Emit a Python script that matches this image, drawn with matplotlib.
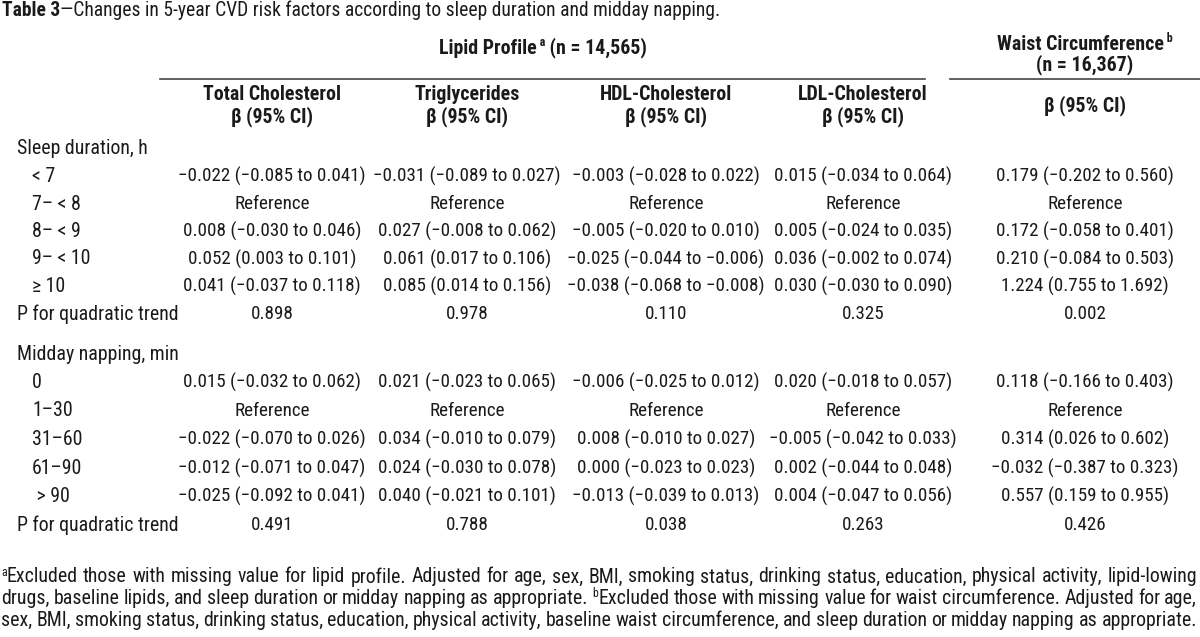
import numpy as np
import matplotlib.pyplot as plt
from matplotlib import font_manager

# Fonts: a narrow sans close to the journal's Arial Narrow
names = {f.name for f in font_manager.fontManager.ttflist}
base = 'Liberation Sans'
for cand in ['Nimbus Sans Narrow', 'Liberation Sans Narrow', 'Arial Narrow', 'Roboto Condensed',
             'Archivo Narrow', 'PT Sans Narrow']:
    if cand in names:
        base = cand
        break
plt.rcParams['font.family'] = [base, 'DejaVu Sans']

# Data
title_bold = "Table 3"
title_rest = "\u2014Changes in 5-year CVD risk factors according to sleep duration and midday napping."
col_names = ["Total Cholesterol", "Triglycerides", "HDL-Cholesterol", "LDL-Cholesterol", ""]

sleep_labels = ["< 7", "7\u2013 < 8", "8\u2013 < 9", "9\u2013 < 10", "\u2265 10"]
nap_labels = ["0", "1\u201330", "31\u201360", "61\u201390", " > 90"]

# beta, lower, upper (None = reference category)
sleep_tc = [(-0.022, -0.085, 0.041), None, (0.008, -0.030, 0.046), (0.052, 0.003, 0.101), (0.041, -0.037, 0.118)]
sleep_tg = [(-0.031, -0.089, 0.027), None, (0.027, -0.008, 0.062), (0.061, 0.017, 0.106), (0.085, 0.014, 0.156)]
sleep_hdl = [(-0.003, -0.028, 0.022), None, (-0.005, -0.020, 0.010), (-0.025, -0.044, -0.006), (-0.038, -0.068, -0.008)]
sleep_ldl = [(0.015, -0.034, 0.064), None, (0.005, -0.024, 0.035), (0.036, -0.002, 0.074), (0.030, -0.030, 0.090)]
sleep_waist = [(0.179, -0.202, 0.560), None, (0.172, -0.058, 0.401), (0.210, -0.084, 0.503), (1.224, 0.755, 1.692)]
sleep_p = [0.898, 0.978, 0.110, 0.325, 0.002]

nap_tc = [(0.015, -0.032, 0.062), None, (-0.022, -0.070, 0.026), (-0.012, -0.071, 0.047), (-0.025, -0.092, 0.041)]
nap_tg = [(0.021, -0.023, 0.065), None, (0.034, -0.010, 0.079), (0.024, -0.030, 0.078), (0.040, -0.021, 0.101)]
nap_hdl = [(-0.006, -0.025, 0.012), None, (0.008, -0.010, 0.027), (0.000, -0.023, 0.023), (-0.013, -0.039, 0.013)]
nap_ldl = [(0.020, -0.018, 0.057), None, (-0.005, -0.042, 0.033), (0.002, -0.044, 0.048), (0.004, -0.047, 0.056)]
nap_waist = [(0.118, -0.166, 0.403), None, (0.314, 0.026, 0.602), (-0.032, -0.387, 0.323), (0.557, 0.159, 0.955)]
nap_p = [0.491, 0.788, 0.038, 0.263, 0.426]

footnote = [
    [("a", "Excluded"), "those", "with", "missing", "value", "for", "lipid", "profile.", "Adjusted", "for", "age,", "sex,",
     "BMI,", "smoking", "status,", "drinking", "status,", "education,", "physical", "activity,", "lipid-lowing"],
    ["drugs,", "baseline", "lipids,", "and", "sleep", "duration", "or", "midday", "napping", "as", "appropriate.",
     ("b", "Excluded"), "those", "with", "missing", "value", "for", "waist", "circumference.", "Adjusted", "for", "age,"],
    ["sex,", "BMI,", "smoking", "status,", "drinking", "status,", "education,", "physical", "activity,", "baseline",
     "waist", "circumference,", "and", "sleep", "duration", "or", "midday", "napping", "as", "appropriate."],
]

# Layout
W, H = 1200, 637
TXT = '#1a1a1a'
col_x = [272, 467, 666, 863, 1085]

fig = plt.figure(figsize=(W / 100, H / 100), dpi=100)
ax = fig.add_axes([0, 0, 1, 1])
ax.set_xlim(0, W)
ax.set_ylim(H, 0)
ax.axis('off')
renderer = fig.canvas.get_renderer()


def width(t):
    return t.get_window_extent(renderer=renderer).width


# size the font so a data cell is about as wide as in the table
probe = ax.text(0, 0, "\u22120.022 (\u22120.085 to 0.041)", fontsize=12)
FS = 12 * 186 / width(probe)
probe.remove()
FT = FS * 1.045  # words run a little wider than the digits


def runs(x, y, parts, ha='left', fs=FT):
    # parts: (text, weight, superscript?)
    arts = []
    for s, wt, sup in parts:
        t = ax.text(0, y - (5 if sup else 0), s, fontsize=fs * (0.6 if sup else 1), fontweight=wt,
                    color=TXT, va='center', ha='left')
        arts.append(t)
    ws = [width(t) for t in arts]
    x0 = x - sum(ws) / 2 if ha == 'center' else x
    for t, w in zip(arts, ws):
        t.set_x(x0)
        x0 += w
    return x0


def fmt(v):
    return f"{v:.3f}".replace('-', '\u2212')


def cell(c):
    if c is None:
        return "Reference"
    return f"{fmt(c[0])} ({fmt(c[1])} to {fmt(c[2])})"


# title
runs(2, 10, [(title_bold, 'bold', False), (title_rest, 'normal', False)], fs=FT * 0.985)

# group headers
runs(543, 48, [("Lipid Profile", 'bold', False), (" a", 'bold', True), (" (n = 14,565)", 'bold', False)], ha='center')
runs(1085, 44, [("Waist Circumference", 'bold', False), (" b", 'bold', True)], ha='center')
ax.text(1085, 65, "(n = 16,367)", fontsize=FT, fontweight='bold', color=TXT, ha='center', va='center')
ax.plot([160, 925], [79, 79], color='#444444', lw=1.2)
ax.plot([950, 1200], [79, 79], color='#444444', lw=1.2)

for x, name in zip(col_x, col_names):
    if name:
        ax.text(x, 95, name, fontsize=FT, fontweight='bold', color=TXT, ha='center', va='center')
        ax.text(x, 117, "\u03b2 (95% CI)", fontsize=FT, fontweight='bold', color=TXT, ha='center', va='center')
    else:
        ax.text(x, 106, "\u03b2 (95% CI)", fontsize=FT, fontweight='bold', color=TXT, ha='center', va='center')

# body
blocks = [
    ("Sleep duration, h", sleep_labels, [sleep_tc, sleep_tg, sleep_hdl, sleep_ldl, sleep_waist], sleep_p, 149, 27.5),
    ("Midday napping, min", nap_labels, [nap_tc, nap_tg, nap_hdl, nap_ldl, nap_waist], nap_p, 354, 28.5),
]
for head, labels, cols, pvals, y0, row_h in blocks:
    ax.text(17, y0, head, fontsize=FT, color=TXT, ha='left', va='center')
    for i, lab in enumerate(labels):
        y = y0 + (i + 1) * row_h
        ax.text(32, y, lab, fontsize=FT, color=TXT, ha='left', va='center')
        for x, col in zip(col_x, cols):
            ax.text(x, y, cell(col[i]), fontsize=FS, color=TXT, ha='center', va='center')
    y = y0 + (len(labels) + 1) * row_h
    ax.text(17, y, "P for quadratic trend", fontsize=FT, color=TXT, ha='left', va='center')
    for x, p in zip(col_x, pvals):
        ax.text(x, y, f"{p:.3f}", fontsize=FS, color=TXT, ha='center', va='center')

# justified footnote
left, right = 1, 1197
for k, line in enumerate(footnote):
    y = 577 + k * 21.5
    items = []
    for wd in line:
        if isinstance(wd, tuple):
            sup = ax.text(0, y - 5, wd[0], fontsize=FT * 0.6, color=TXT, va='center', ha='left')
            main = ax.text(0, y, wd[1], fontsize=FT, color=TXT, va='center', ha='left')
            items.append([sup, main])
        else:
            items.append([ax.text(0, y, wd, fontsize=FT, color=TXT, va='center', ha='left')])
    ws = [sum(width(t) for t in it) for it in items]
    gap = (right - left - sum(ws)) / (len(items) - 1)
    x = left
    for it, w in zip(items, ws):
        xx = x
        for t in it:
            t.set_x(xx)
            xx += width(t)
        x += w + gap

fig.savefig('out.png', dpi=100)
